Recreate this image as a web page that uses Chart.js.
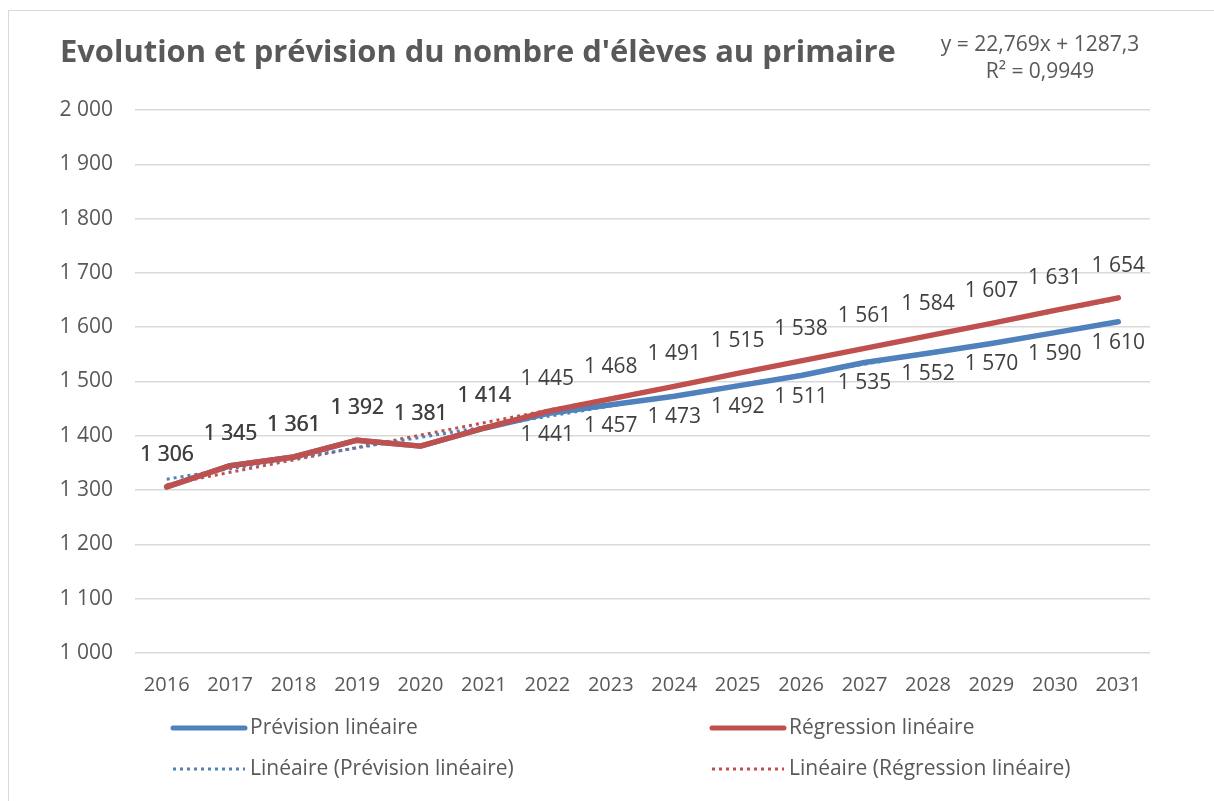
<!DOCTYPE html>
<html>
<head>
<meta charset="utf-8">
<title>Evolution et prévision du nombre d'élèves au primaire</title>
<script src="https://cdn.jsdelivr.net/npm/chart.js@4"></script>
<style>
    html, body { margin: 0; padding: 0; background: #fff; }
    #frame {
        position: absolute; left: 8px; top: 10px;
        width: 1212px; height: 795px;
        border: 1px solid #d9d9d9; box-sizing: border-box;
    }
    canvas { display: block; }
</style>
</head>
<body>
<div id="frame"><canvas id="eleves-chart" width="1210" height="793"></canvas></div>
<script>
// Données
const annees = ['2016', '2017', '2018', '2019', '2020', '2021', '2022', '2023',
                '2024', '2025', '2026', '2027', '2028', '2029', '2030', '2031'];
const previsionLineaire = [1306, 1345, 1361, 1392, 1381, 1414, 1441, 1457,
                           1473, 1492, 1511, 1535, 1552, 1570, 1590, 1610];
const regressionLineaire = [1306, 1345, 1361, 1392, 1381, 1414, 1445, 1468,
                            1491, 1515, 1538, 1561, 1584, 1607, 1631, 1654];
// Courbes de tendance : seulement les extrémités lues, le reste est tracé en ligne droite
const tendancePrevision = [1320, null, null, null, null, null, null, null,
                           null, null, null, null, null, null, null, 1609];
const tendanceRegression = [1310, null, null, null, null, null, null, null,
                            null, null, null, null, null, null, null, 1652];
const titre = "Evolution et prévision du nombre d'élèves au primaire";
const equation = ['y = 22,769x + 1287,3', 'R² = 0,9949'];
const nbHistorique = 6;

const BLEU = '#4F81BD';
const ROUGE = '#C0504D';
const GRIS = '#595959';
const FONT = '"Open Sans", sans-serif';

// Format "1 300"
function formatMilliers(v) {
    return String(Math.round(v)).replace(/\B(?=(\d{3})+(?!\d))/g, ' ');
}

// Titre, équation, étiquettes et légende dessinés sur le canvas
const decorPlugin = {
    id: 'decor',
    afterDatasetsDraw(chart) {
        const ctx = chart.ctx;
        ctx.save();

        // étiquettes de données (les années historiques se superposent, d'où le gras)
        ctx.font = '21px ' + FONT;
        ctx.fillStyle = '#404040';
        ctx.textAlign = 'center';
        ctx.textBaseline = 'middle';
        const metaRouge = chart.getDatasetMeta(2);
        const metaBleu = chart.getDatasetMeta(3);
        metaRouge.data.forEach((pt, i) => {
            ctx.fillText(formatMilliers(regressionLineaire[i]), pt.x, pt.y - 32);
        });
        metaBleu.data.forEach((pt, i) => {
            if (i < nbHistorique) {
                ctx.fillText(formatMilliers(previsionLineaire[i]), pt.x + 0.6, pt.y - 32);
            } else {
                ctx.fillText(formatMilliers(previsionLineaire[i]), pt.x, pt.y + 21);
            }
        });

        // titre, ajusté à la largeur de l'original
        ctx.fillStyle = GRIS;
        ctx.textAlign = 'left';
        ctx.font = 'bold 32px ' + FONT;
        const largeur = ctx.measureText(titre).width;
        const taille = Math.min(32, 32 * 837 / largeur);
        ctx.font = 'bold ' + taille.toFixed(1) + 'px ' + FONT;
        ctx.fillText(titre, 51, 42);

        // équation de la tendance
        ctx.textAlign = 'center';
        ctx.font = '21px ' + FONT;
        ctx.fillText(equation[0], 1031, 34);
        ctx.fillText(equation[1], 1031, 61);

        // légende sur deux colonnes
        const items = [
            { label: 'Prévision linéaire', color: BLEU, dash: [], width: 5, x: 164, y: 717 },
            { label: 'Régression linéaire', color: ROUGE, dash: [], width: 5, x: 703, y: 717 },
            { label: 'Linéaire (Prévision linéaire)', color: BLEU, dash: [3, 4], width: 3, x: 164, y: 758 },
            { label: 'Linéaire (Régression linéaire)', color: ROUGE, dash: [3, 4], width: 3, x: 703, y: 758 }
        ];
        ctx.textAlign = 'left';
        ctx.font = '21px ' + FONT;
        items.forEach(it => {
            ctx.beginPath();
            ctx.strokeStyle = it.color;
            ctx.lineWidth = it.width;
            ctx.lineCap = it.dash.length ? 'butt' : 'round';
            ctx.setLineDash(it.dash);
            ctx.moveTo(it.x, it.y);
            ctx.lineTo(it.x + 72, it.y);
            ctx.stroke();
            ctx.setLineDash([]);
            ctx.fillStyle = GRIS;
            ctx.fillText(it.label, it.x + 77, it.y);
        });

        ctx.restore();
    }
};

const ctxEleves = document.getElementById('eleves-chart');
const elevesChart = new Chart(ctxEleves, {
    type: 'line',
    data: {
        labels: annees,
        datasets: [
            {
                label: 'Linéaire (Prévision linéaire)',
                data: tendancePrevision,
                borderColor: BLEU,
                borderWidth: 3,
                borderDash: [3, 4],
                spanGaps: true,
                pointRadius: 0,
                order: 3
            },
            {
                label: 'Linéaire (Régression linéaire)',
                data: tendanceRegression,
                borderColor: ROUGE,
                borderWidth: 3,
                borderDash: [3, 4],
                spanGaps: true,
                pointRadius: 0,
                order: 3
            },
            {
                label: 'Régression linéaire',
                data: regressionLineaire,
                borderColor: ROUGE,
                borderWidth: 5.5,
                borderCapStyle: 'round',
                borderJoinStyle: 'round',
                pointRadius: 0,
                tension: 0,
                order: 1
            },
            {
                label: 'Prévision linéaire',
                data: previsionLineaire,
                borderColor: BLEU,
                borderWidth: 5.5,
                borderCapStyle: 'round',
                borderJoinStyle: 'round',
                pointRadius: 0,
                tension: 0,
                order: 2
            }
        ]
    },
    options: {
        responsive: false,
        animation: false,
        layout: {
            padding: { top: 99, right: 69, bottom: 91, left: 0 }
        },
        plugins: {
            legend: { display: false },
            title: { display: false },
            tooltip: { enabled: false }
        },
        scales: {
            x: {
                offset: true,
                grid: { display: false, drawTicks: false },
                border: { display: false },
                ticks: {
                    color: GRIS,
                    font: { family: FONT, size: 20 },
                    padding: 20,
                    maxRotation: 0,
                    autoSkip: false
                },
                afterFit(scale) { scale.height = 60; }
            },
            y: {
                min: 1000,
                max: 2000,
                grid: { color: '#d9d9d9', lineWidth: 1.5, drawTicks: false },
                border: { display: false },
                ticks: {
                    stepSize: 100,
                    color: GRIS,
                    font: { family: FONT, size: 21 },
                    padding: 22,
                    callback: function(value) {
                        return formatMilliers(value);
                    }
                },
                afterFit(scale) { scale.width = 126; }
            }
        }
    },
    plugins: [decorPlugin]
});
</script>
</body>
</html>
